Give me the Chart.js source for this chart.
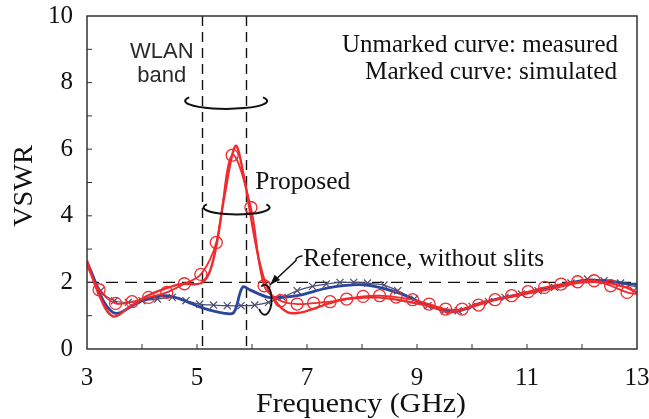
<!DOCTYPE html>
<html>
<head>
<meta charset="utf-8">
<script src="https://cdn.jsdelivr.net/npm/chart.js@4.4.1/dist/chart.umd.min.js"></script>
<style>
  html, body { margin: 0; padding: 0; background: #fff; }
  #chart { display: block; }
</style>
</head>
<body>
<canvas id="chart" width="649" height="419"></canvas>
<script>
// Proposed antenna, measured (red, no markers)
const freqRedMeas = [3.0, 3.2, 3.47, 3.8, 4.1, 4.4, 4.7, 5.1, 5.3, 5.5, 5.7, 5.85, 6.03, 6.2, 6.4, 6.65, 6.9, 7.1, 7.4, 7.7, 8.3, 8.9, 9.3, 9.6, 10.2, 10.8, 11.4, 12.0, 12.4, 12.8, 13.0];
const vswrRedMeas = [2.65, 1.7, 0.98, 1.3, 1.6, 1.8, 1.95, 2.0, 2.7, 4.6, 6.1, 5.2, 3.5, 2.2, 1.5, 1.1, 1.1, 1.2, 1.37, 1.5, 1.55, 1.4, 1.25, 1.1, 1.4, 1.6, 1.8, 2.0, 2.0, 1.85, 1.7];

// Proposed antenna, simulated (red, circles)
const freqRedSim = [3.0, 3.22, 3.52, 3.82, 4.12, 4.45, 4.77, 5.07, 5.35, 5.64, 5.98, 6.22, 6.52, 6.82, 7.12, 7.42, 7.72, 8.02, 8.32, 8.62, 8.92, 9.22, 9.52, 9.82, 10.12, 10.42, 10.72, 11.02, 11.32, 11.62, 11.92, 12.22, 12.52, 12.82, 13.0];
const vswrRedSim = [2.5, 1.78, 1.37, 1.42, 1.55, 1.7, 1.96, 2.24, 3.2, 5.82, 4.25, 1.9, 1.45, 1.35, 1.38, 1.42, 1.5, 1.58, 1.6, 1.56, 1.48, 1.35, 1.2, 1.2, 1.32, 1.48, 1.6, 1.72, 1.85, 1.95, 2.02, 2.05, 1.9, 1.7, 1.65];

// Reference antenna without slits, measured (blue, no markers)
const freqBlueMeas = [3.0, 3.47, 4.0, 4.4, 4.7, 5.07, 5.5, 5.67, 5.83, 5.98, 6.28, 6.52, 6.82, 7.43, 8.03, 8.64, 9.12, 9.66, 10.2, 10.8, 11.4, 12.0, 12.45, 12.87, 13.0];
const vswrBlueMeas = [2.6, 1.1, 1.45, 1.6, 1.5, 1.25, 1.07, 1.1, 1.86, 1.76, 1.56, 1.55, 1.6, 1.85, 1.93, 1.7, 1.36, 1.12, 1.4, 1.62, 1.82, 2.05, 2.05, 1.95, 1.95];

// Reference antenna without slits, simulated (dark, x markers)
const freqBlueSim = [3.0, 3.25, 3.5, 3.75, 4.0, 4.28, 4.55, 4.8, 5.05, 5.3, 5.55, 5.8, 6.05, 6.3, 6.55, 6.82, 7.1, 7.35, 7.6, 7.85, 8.1, 8.4, 8.65, 8.95, 9.2, 9.5, 9.75, 10.0, 10.3, 10.6, 10.9, 11.2, 11.5, 11.8, 12.1, 12.4, 12.7, 13.0];
const vswrBlueSim = [2.6, 1.75, 1.45, 1.4, 1.45, 1.5, 1.55, 1.45, 1.35, 1.32, 1.3, 1.3, 1.32, 1.4, 1.55, 1.75, 1.88, 1.95, 2.0, 2.0, 1.98, 1.92, 1.75, 1.5, 1.3, 1.15, 1.15, 1.28, 1.42, 1.55, 1.65, 1.75, 1.85, 1.98, 2.1, 2.05, 1.98, 1.85];

const wlanBand = [5.1, 5.9];
const vswrLimit = 2;
const xTickLabels = ['3', '5', '7', '9', '11', '13'];
const yTickLabels = ['0', '2', '4', '6', '8', '10'];

const toPoints = (xs, ys) => xs.map((x, i) => ({ x, y: ys[i] }));

const SERIF = "'Liberation Serif', 'Times New Roman', serif";
const SANS = "'Liberation Sans', Arial, sans-serif";
const RED = '#ef2b2d';
const BLUE = '#2b479b';
const DARK = '#4a4d70';
const INK = '#111';

// text squeezed/stretched to a given width, as in the printed figure
function fitText(ctx, str, x, y, size, width, align) {
  ctx.font = `${size}px ${SERIF}`;
  const sx = width / ctx.measureText(str).width;
  ctx.save();
  ctx.translate(x, y);
  ctx.scale(sx, 1);
  ctx.textAlign = align;
  ctx.fillText(str, 0, 0);
  ctx.restore();
}

const chartDecor = {
  id: 'chartDecor',
  beforeDatasetsDraw(chart) {
    const { ctx, chartArea: a, scales: { x, y } } = chart;
    ctx.save();
    ctx.strokeStyle = INK;
    ctx.lineWidth = 1.4;
    ctx.setLineDash([10, 6]);
    wlanBand.forEach((f) => {
      const px = x.getPixelForValue(f);
      ctx.beginPath();
      ctx.moveTo(px, a.top);
      ctx.lineTo(px, a.bottom);
      ctx.stroke();
    });
    ctx.setLineDash([12, 7]);
    const py = y.getPixelForValue(vswrLimit);
    ctx.beginPath();
    ctx.moveTo(a.left, py);
    ctx.lineTo(a.right, py);
    ctx.stroke();
    ctx.restore();
  },
  afterDraw(chart) {
    const { ctx, chartArea: a, scales: { x, y } } = chart;
    ctx.save();

    // frame and inward ticks
    ctx.strokeStyle = '#333';
    ctx.lineWidth = 1.5;
    ctx.strokeRect(a.left, a.top, a.right - a.left, a.bottom - a.top);
    ctx.lineWidth = 1;
    for (let f = 4; f < 13; f++) {
      const px = x.getPixelForValue(f);
      ctx.beginPath();
      ctx.moveTo(px, a.bottom);
      ctx.lineTo(px, a.bottom - 5);
      ctx.stroke();
    }
    for (let v = 1; v < 10; v++) {
      const py = y.getPixelForValue(v);
      ctx.beginPath();
      ctx.moveTo(a.left, py);
      ctx.lineTo(a.left + 5, py);
      ctx.stroke();
    }

    // axis titles
    ctx.fillStyle = INK;
    ctx.textBaseline = 'middle';
    fitText(ctx, 'Frequency (GHz)', 361, 405, 28, 210, 'center');
    ctx.save();
    ctx.translate(25, 186);
    ctx.rotate(-Math.PI / 2);
    fitText(ctx, 'VSWR', 0, 0, 28, 82, 'center');
    ctx.restore();

    // legend notes
    fitText(ctx, 'Unmarked curve: measured', 618, 45, 25, 276, 'right');
    fitText(ctx, 'Marked curve: simulated', 617, 72, 25, 252, 'right');

    // WLAN band label
    ctx.textAlign = 'center';
    ctx.fillStyle = '#2a2a2a';
    ctx.font = `22px ${SANS}`;
    ctx.fillText('WLAN', x.getPixelForValue(4.36), y.getPixelForValue(8.92));
    ctx.fillText('band', x.getPixelForValue(4.36), y.getPixelForValue(8.2));

    // ring markers
    ctx.strokeStyle = INK;
    ctx.lineWidth = 2;
    const ring = (f, v, rx, ry) => {
      ctx.beginPath();
      ctx.ellipse(x.getPixelForValue(f), y.getPixelForValue(v), rx, ry, 0, -0.45, Math.PI + 0.45, false);
      ctx.stroke();
    };
    ring(5.53, 7.45, 41, 8);
    ring(5.72, 4.25, 33, 7);

    // loop around reference curves
    ctx.lineWidth = 1.8;
    ctx.beginPath();
    ctx.ellipse(x.getPixelForValue(6.23), y.getPixelForValue(1.48), 7, 15, 0, -Math.PI / 2 - 0.5, Math.PI / 2 + 0.9, false);
    ctx.stroke();

    // texts
    ctx.fillStyle = INK;
    fitText(ctx, 'Proposed', x.getPixelForValue(6.06), y.getPixelForValue(4.99), 25, 95, 'left');
    fitText(ctx, 'Reference, without slits', x.getPixelForValue(6.93), y.getPixelForValue(2.68), 25, 241, 'left');

    // leader arrow
    const p0 = [x.getPixelForValue(6.92), y.getPixelForValue(2.8)];
    const p1 = [x.getPixelForValue(6.8), y.getPixelForValue(2.72)];
    const tip = [x.getPixelForValue(6.33), y.getPixelForValue(1.93)];
    ctx.lineWidth = 1.5;
    ctx.beginPath();
    ctx.moveTo(p0[0], p0[1]);
    ctx.quadraticCurveTo(p1[0] - 1, p1[1] - 1, p1[0], p1[1] + 2);
    ctx.lineTo(tip[0], tip[1]);
    ctx.stroke();
    const ang = Math.atan2(tip[1] - p1[1], tip[0] - p1[0]);
    ctx.beginPath();
    ctx.moveTo(tip[0], tip[1]);
    ctx.lineTo(tip[0] - 11 * Math.cos(ang - 0.35), tip[1] - 11 * Math.sin(ang - 0.35));
    ctx.lineTo(tip[0] - 11 * Math.cos(ang + 0.35), tip[1] - 11 * Math.sin(ang + 0.35));
    ctx.closePath();
    ctx.fill();

    ctx.restore();
  }
};

new Chart(document.getElementById('chart'), {
  type: 'line',
  data: {
    datasets: [
      {
        label: 'Proposed, measured',
        data: toPoints(freqRedMeas, vswrRedMeas),
        borderColor: RED,
        borderWidth: 2.4,
        pointRadius: 0,
        tension: 0.35,
        order: 1
      },
      {
        label: 'Proposed, simulated',
        data: toPoints(freqRedSim, vswrRedSim),
        borderColor: RED,
        borderWidth: 1.8,
        pointStyle: 'circle',
        pointRadius: (c) => (c.dataIndex === 0 || c.dataIndex === freqRedSim.length - 1 ? 0 : 6),
        pointBorderColor: RED,
        pointBorderWidth: 1.3,
        pointBackgroundColor: 'rgba(0,0,0,0)',
        tension: 0.35,
        order: 2
      },
      {
        label: 'Reference, measured',
        data: toPoints(freqBlueMeas, vswrBlueMeas),
        borderColor: BLUE,
        borderWidth: 2.8,
        pointRadius: 0,
        tension: 0.35,
        order: 3
      },
      {
        label: 'Reference, simulated',
        data: toPoints(freqBlueSim, vswrBlueSim),
        borderColor: DARK,
        borderWidth: 1.2,
        pointStyle: 'crossRot',
        pointRadius: (c) => (c.dataIndex === 0 ? 0 : 5),
        pointBorderColor: DARK,
        pointBorderWidth: 1.2,
        tension: 0.3,
        order: 4
      }
    ]
  },
  options: {
    responsive: false,
    devicePixelRatio: 1,
    animation: false,
    layout: { padding: { top: 16, right: 12, left: 0, bottom: 0 } },
    plugins: { legend: { display: false }, tooltip: { enabled: false } },
    scales: {
      x: {
        type: 'linear',
        min: 3,
        max: 13,
        afterFit: (s) => {
          s.height = 70;
          s.paddingLeft = 0;
          s.paddingRight = 0;
        },
        afterBuildTicks: (s) => { s.ticks = xTickLabels.map((t) => ({ value: Number(t) })); },
        grid: { display: false, drawTicks: false },
        border: { display: false },
        ticks: {
          color: INK,
          font: { family: SERIF, size: 25 },
          padding: 14,
          maxRotation: 0,
          callback: (v) => String(v)
        }
      },
      y: {
        min: 0,
        max: 10,
        afterFit: (s) => {
          s.width = 87;
          s.paddingTop = 0;
          s.paddingBottom = 0;
        },
        afterBuildTicks: (s) => { s.ticks = yTickLabels.map((t) => ({ value: Number(t) })); },
        grid: { display: false, drawTicks: false },
        border: { display: false },
        ticks: {
          color: INK,
          font: { family: SERIF, size: 25 },
          padding: 14,
          callback: (v) => String(v)
        }
      }
    }
  },
  plugins: [chartDecor]
});
</script>
</body>
</html>
